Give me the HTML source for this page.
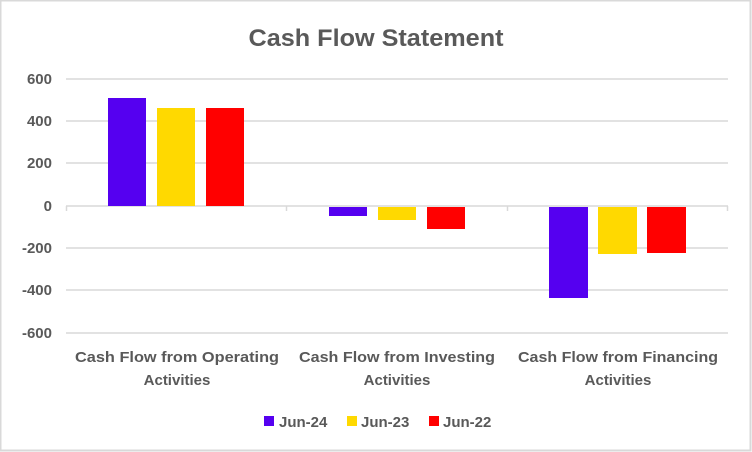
<!DOCTYPE html>
<html><head><meta charset="utf-8"><style>
html,body{margin:0;padding:0;background:#fff;}
svg{display:block;}
text{font-family:"Liberation Sans",Calibri,sans-serif;fill:#595959;}
</style></head><body>
<svg width="752" height="452" viewBox="0 0 752 452" xmlns="http://www.w3.org/2000/svg">
<rect x="0.5" y="0.5" width="750" height="450" fill="#fff" stroke="#d9d9d9" stroke-width="2"/>
<text x="376" y="46" text-anchor="middle" font-size="24" font-weight="bold" textLength="255" lengthAdjust="spacingAndGlyphs">Cash Flow Statement</text>
<g stroke="#d9d9d9" stroke-width="1.5">
<line x1="66" y1="79" x2="728" y2="79"/>
<line x1="66" y1="121" x2="728" y2="121"/>
<line x1="66" y1="163" x2="728" y2="163"/>
<line x1="66" y1="248" x2="728" y2="248"/>
<line x1="66" y1="290" x2="728" y2="290"/>
<line x1="66" y1="333" x2="728" y2="333"/>
<line x1="66" y1="206" x2="728" y2="206"/>
<line x1="66.5" y1="206" x2="66.5" y2="211"/>
<line x1="286.5" y1="206" x2="286.5" y2="211"/>
<line x1="507.5" y1="206" x2="507.5" y2="211"/>
<line x1="727.5" y1="206" x2="727.5" y2="211"/>
</g>
<g font-size="15" font-weight="bold" text-anchor="end">
<text x="52" y="84">600</text>
<text x="52" y="126">400</text>
<text x="52" y="168">200</text>
<text x="52" y="211">0</text>
<text x="52" y="253">-200</text>
<text x="52" y="295">-400</text>
<text x="52" y="338">-600</text>
</g>
<rect x="108" y="98" width="38" height="108" fill="#5500f0"/>
<rect x="157" y="108" width="38" height="98" fill="#ffd900"/>
<rect x="206" y="108" width="38" height="98" fill="#ff0000"/>
<rect x="329" y="207" width="38" height="9" fill="#5500f0"/>
<rect x="378" y="207" width="38" height="13" fill="#ffd900"/>
<rect x="427" y="207" width="38" height="22" fill="#ff0000"/>
<rect x="549" y="207" width="39" height="91" fill="#5500f0"/>
<rect x="598" y="207" width="39" height="47" fill="#ffd900"/>
<rect x="647" y="207" width="39" height="46" fill="#ff0000"/>
<g font-size="15" font-weight="bold" text-anchor="middle">
<text x="177" y="362" textLength="204" lengthAdjust="spacingAndGlyphs">Cash Flow from Operating</text>
<text x="177" y="385">Activities</text>
<text x="397" y="362" textLength="196" lengthAdjust="spacingAndGlyphs">Cash Flow from Investing</text>
<text x="397" y="385">Activities</text>
<text x="618" y="362" textLength="200" lengthAdjust="spacingAndGlyphs">Cash Flow from Financing</text>
<text x="618" y="385">Activities</text>
</g>
<rect x="264" y="416" width="10" height="10" fill="#5500f0"/>
<rect x="347" y="416" width="10" height="10" fill="#ffd900"/>
<rect x="429" y="416" width="10" height="10" fill="#ff0000"/>
<g font-size="15" font-weight="bold">
<text x="279" y="427">Jun-24</text>
<text x="361" y="427">Jun-23</text>
<text x="443" y="427">Jun-22</text>
</g>
</svg>
</body></html>
